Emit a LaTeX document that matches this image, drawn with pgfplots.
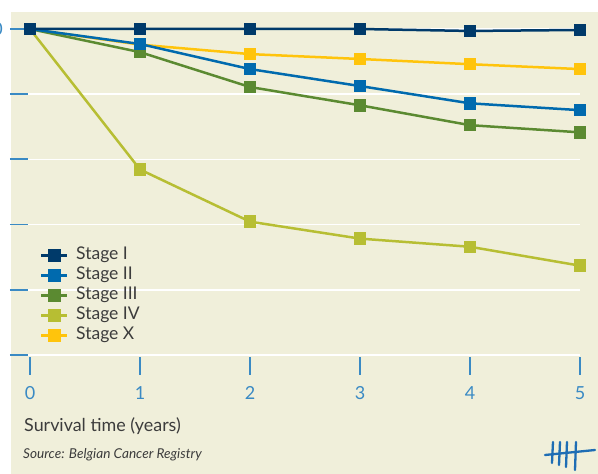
\documentclass[border=0pt]{standalone}
\usepackage{pgfplots}
\pgfplotsset{compat=1.18}
\usepackage{fontspec}
\setmainfont{Lato}
\definecolor{bg}{HTML}{F0EFDA}
\definecolor{sI}{HTML}{003A6A}
\definecolor{sII}{HTML}{006AAE}
\definecolor{sIII}{HTML}{5B8A31}
\definecolor{sIV}{HTML}{B7BE33}
\definecolor{sX}{HTML}{FFC40C}
\definecolor{tickblue}{HTML}{3A8AC4}
\definecolor{txt}{HTML}{3C3C3C}
\definecolor{logo}{HTML}{1E6DB4}
\begin{document}
\begin{tikzpicture}
\useasboundingbox (0pt,0pt) rectangle (598pt,474pt);
\clip (0pt,0pt) rectangle (598pt,474pt);
\fill[bg] (11pt,0pt) rectangle (598pt,462pt);
\begin{axis}[
  at={(28pt,119pt)}, anchor=south west,
  scale only axis, width=552pt, height=326pt,
  xmin=-0.01818, xmax=5, ymin=0, ymax=100,
  clip=false,
  axis line style={draw=none},
  xtick={0,1,2,3,4,5}, ytick={0,20,40,60,80,100},
  yticklabels={,,,,,100},
  ymajorgrids, grid style={white, line width=1.5pt},
  tick pos=left, tick align=outside,
  major tick length=18pt,
  major tick style={tickblue, line width=1.8pt},
  xtick style={yshift=-2pt},
  ticklabel style={text=tickblue, font=\fontsize{18}{21}\selectfont},
  /pgf/number format/assume math mode=true,
  yticklabel style={anchor=east, inner sep=0pt, xshift=-7pt},
  xticklabel style={anchor=north, inner sep=0pt, yshift=-13pt},
  reverse legend,
  legend cell align=left,
  legend style={at={(0.0217,0.337)}, anchor=north west, draw=none, fill=none, inner sep=0pt,
    font=\fontsize{17.5}{20}\selectfont, text=txt, row sep=0pt,
    nodes={inner sep=0pt, text height=14pt, text depth=6pt},
    /tikz/every odd column/.append style={column sep=7.5pt}},
  legend image code/.code={\draw[mark repeat=2, mark phase=2, #1] plot coordinates {(0pt,0pt) (13pt,0pt) (26pt,0pt)};},
  every axis plot/.append style={line width=2.5pt, mark=square*, mark size=5pt},
]
\addplot[sX, mark options={fill=sX, draw=sX}] coordinates {(0,100) (1,95.2) (2,92.3) (3,90.8) (4,89.2) (5,87.7)};
\addlegendentry{Stage X}
\addplot[sIV, mark options={fill=sIV, draw=sIV}] coordinates {(0,100) (1,56.9) (2,40.9) (3,35.7) (4,33.2) (5,27.4)};
\addlegendentry{Stage IV}
\addplot[sIII, mark options={fill=sIII, draw=sIII}] coordinates {(0,100) (1,92.9) (2,82.2) (3,76.6) (4,70.5) (5,68.3)};
\addlegendentry{Stage III}
\addplot[sII, mark options={fill=sII, draw=sII}] coordinates {(0,100) (1,95.4) (2,87.7) (3,82.5) (4,77.2) (5,75.1)};
\addlegendentry{Stage II}
\addplot[sI, mark options={fill=sI, draw=sI}] coordinates {(0,100) (1,100) (2,100) (3,100) (4,99.4) (5,99.7)};
\addlegendentry{Stage I}
\end{axis}
\node[anchor=base west, inner sep=0pt, text=txt, font=\fontsize{17.9}{21}\selectfont] at (24pt,42pt) {Survival time (years)};
\node[anchor=base west, inner sep=0pt, text=txt, font=\fontsize{13.6}{16}\selectfont\itshape] at (23pt,15pt) {Source: Belgian Cancer Registry};
\begin{scope}[logo, line width=2.3pt, line cap=round]
\draw (553pt,32pt) -- (552pt,11pt);
\draw (560pt,32pt) -- (559pt,9pt);
\draw (567pt,32pt) -- (566pt,7pt);
\draw (576pt,32pt) -- (575pt,4pt);
\draw (545pt,19pt) -- (595pt,24pt);
\end{scope}
\end{tikzpicture}
\end{document}
